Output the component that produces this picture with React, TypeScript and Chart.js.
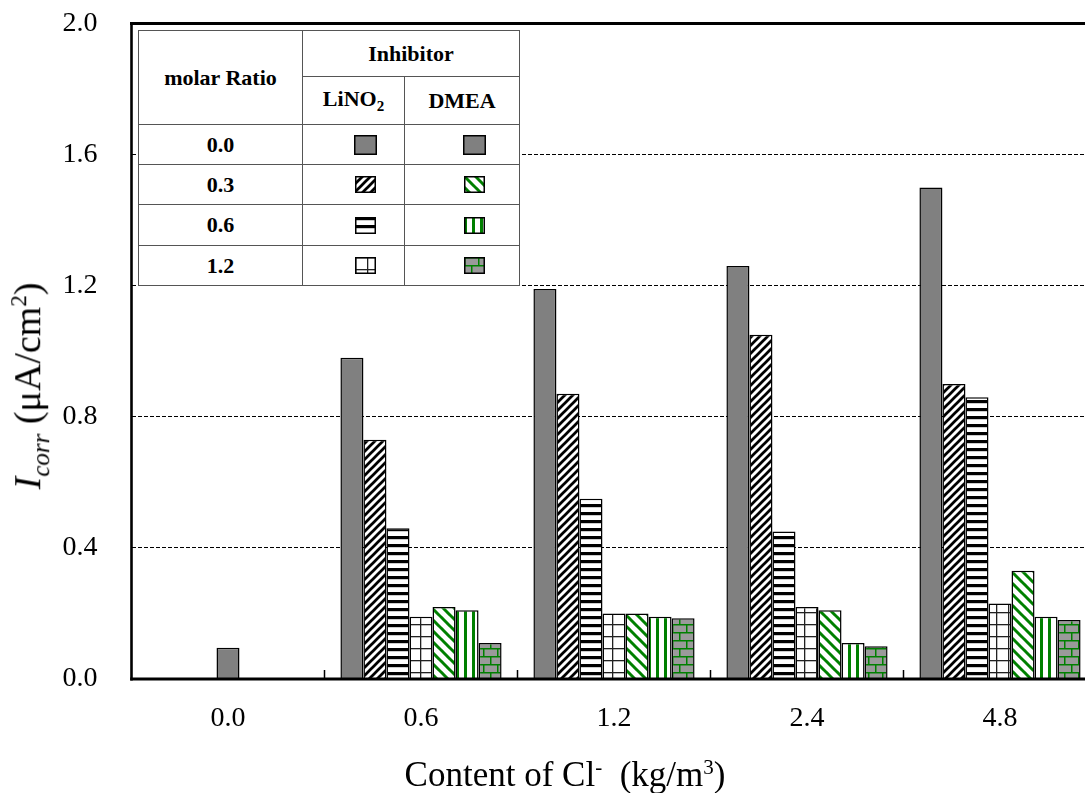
import React, { useEffect, useRef } from "react";
import { Chart, registerables } from "chart.js";

Chart.register(...registerables);

// ---- data ----
const categories = ["0.0", "0.6", "1.2", "2.4", "4.8"];
const control = [null, 0.98, 1.19, 1.26, 1.5];
const lino2Ratio03 = [null, 0.73, 0.87, 1.05, 0.9];
const lino2Ratio06 = [null, 0.46, 0.55, 0.45, 0.86];
const lino2Ratio12 = [null, 0.19, 0.2, 0.22, 0.23];
const dmeaRatio03 = [null, 0.22, 0.2, 0.21, 0.33];
const dmeaRatio06 = [null, 0.21, 0.19, 0.11, 0.19];
const dmeaRatio12 = [null, 0.11, 0.185, 0.1, 0.18];
const plainNoChloride = [0.095, null, null, null, null];
const yMin = 0;
const yMax = 2.0;
const yStep = 0.4;
const legendRatios = ["0.0", "0.3", "0.6", "1.2"];

const SERIF = '"Liberation Serif", "Times New Roman", serif';
const GREEN = "#008000";
const GRAY = "#808080";

type Kind = "solid" | "diagUp" | "hstripe" | "grid" | "greenDiag" | "greenV" | "brick";

function makeTile(kind: Kind): HTMLCanvasElement {
  const t = document.createElement("canvas");
  let w = 8, h = 8;
  if (kind === "greenDiag") { w = 11; h = 11; }
  if (kind === "grid") { w = 12; h = 12; }
  if (kind === "brick") { w = 14; h = 16; }
  t.width = w; t.height = h;
  const c = t.getContext("2d")!;
  c.fillStyle = "#fff";
  c.fillRect(0, 0, w, h);
  if (kind === "solid") {
    c.fillStyle = GRAY; c.fillRect(0, 0, w, h);
  } else if (kind === "diagUp") {
    c.strokeStyle = "#000"; c.lineWidth = 2.7;
    for (let k = -1; k <= 1; k++) {
      c.beginPath(); c.moveTo(k * w - 1, h + 1); c.lineTo(k * w + w + 1, -1); c.stroke();
    }
  } else if (kind === "greenDiag") {
    c.strokeStyle = GREEN; c.lineWidth = 3;
    for (let k = -1; k <= 1; k++) {
      c.beginPath(); c.moveTo(k * w - 1, -1); c.lineTo(k * w + w + 1, h + 1); c.stroke();
    }
  } else if (kind === "hstripe") {
    c.fillStyle = "#000"; c.fillRect(0, 0, w, 3.2);
  } else if (kind === "greenV") {
    c.fillStyle = GREEN; c.fillRect(0, 0, 3, h);
  } else if (kind === "grid") {
    c.fillStyle = "#222";
    c.fillRect(0, 0, w, 1.3);
    c.fillRect(0, 0, 1.3, h);
  } else if (kind === "brick") {
    c.fillStyle = "#9a9a9a"; c.fillRect(0, 0, w, h);
    c.fillStyle = GREEN;
    c.fillRect(0, 0, w, 1.5);
    c.fillRect(0, 8, w, 1.5);
    c.fillRect(0, 0, 1.5, 8);
    c.fillRect(7, 8, 1.5, 8);
  }
  return t;
}

function fillFor(ctx: CanvasRenderingContext2D, kind: Kind): CanvasPattern | string {
  if (kind === "solid") return GRAY;
  return ctx.createPattern(makeTile(kind), "repeat") || "#fff";
}

function Swatch({ kind, w, h }: { kind: Kind; w: number; h: number }) {
  const ref = useRef<HTMLCanvasElement>(null);
  useEffect(() => {
    const cv = ref.current;
    if (!cv) return;
    const c = cv.getContext("2d")!;
    c.fillStyle = fillFor(c, kind);
    c.fillRect(0, 0, w, h);
    c.strokeStyle = "#000";
    c.lineWidth = 1.5;
    c.strokeRect(0.75, 0.75, w - 1.5, h - 1.5);
  }, [kind, w, h]);
  return <canvas ref={ref} width={w} height={h} style={{ display: "block" }} />;
}

const framePlugin = {
  id: "frame",
  afterDatasetsDraw(chart: any) {
    const { ctx, chartArea, scales } = chart;
    const xs = scales.x;
    ctx.save();
    ctx.strokeStyle = "#000";
    // top border
    ctx.lineWidth = 3;
    ctx.beginPath();
    ctx.moveTo(chartArea.left - 1.5, chartArea.top);
    ctx.lineTo(chartArea.right + 2, chartArea.top);
    ctx.stroke();
    // left axis
    ctx.lineWidth = 2.6;
    ctx.beginPath();
    ctx.moveTo(chartArea.left, chartArea.top);
    ctx.lineTo(chartArea.left, chartArea.bottom + 1.5);
    ctx.stroke();
    // bottom axis
    ctx.lineWidth = 3;
    ctx.beginPath();
    ctx.moveTo(chartArea.left - 1.3, chartArea.bottom);
    ctx.lineTo(chartArea.right + 2, chartArea.bottom);
    ctx.stroke();
    // inward category tick marks
    ctx.lineWidth = 1.5;
    for (let i = 1; i < categories.length; i++) {
      const bx = (xs.getPixelForValue(i - 1) + xs.getPixelForValue(i)) / 2;
      ctx.beginPath();
      ctx.moveTo(bx, chartArea.bottom);
      ctx.lineTo(bx, chartArea.bottom - 9);
      ctx.stroke();
    }
    ctx.restore();
  },
};

export default function App() {
  const canvasRef = useRef<HTMLCanvasElement>(null);

  useEffect(() => {
    const cv = canvasRef.current;
    if (!cv) return;
    const ctx = cv.getContext("2d")!;
    const mk = (label: string, data: (number | null)[], kind: Kind, extra: any = {}) => ({
      label,
      data,
      backgroundColor: fillFor(ctx, kind),
      borderColor: "#000",
      borderWidth: 1.5,
      ...extra,
    });
    const chart = new Chart(cv, {
      type: "bar",
      data: {
        labels: categories,
        datasets: [
          mk("0.0", control, "solid"),
          mk("LiNO2 0.3", lino2Ratio03, "diagUp"),
          mk("LiNO2 0.6", lino2Ratio06, "hstripe"),
          mk("LiNO2 1.2", lino2Ratio12, "grid"),
          mk("DMEA 0.3", dmeaRatio03, "greenDiag"),
          mk("DMEA 0.6", dmeaRatio06, "greenV"),
          mk("DMEA 1.2", dmeaRatio12, "brick"),
          mk("plain", plainNoChloride, "solid", { grouped: false, barPercentage: 1 / 7 }),
        ] as any,
      },
      options: {
        animation: false,
        responsive: true,
        maintainAspectRatio: false,
        layout: { padding: { top: 23.5, right: 13.5, left: 0, bottom: 0 } },
        plugins: { legend: { display: false }, tooltip: { enabled: false } },
        datasets: { bar: { categoryPercentage: 0.835, barPercentage: 1 } },
        scales: {
          x: {
            offset: true,
            grid: { display: false },
            border: { display: false },
            ticks: { font: { family: SERIF, size: 28 }, color: "#000", padding: 15 },
            afterFit: (s: any) => { s.height = 114; s.paddingLeft = 0; s.paddingRight = 0; },
          },
          y: {
            min: yMin,
            max: yMax,
            ticks: {
              stepSize: yStep,
              font: { family: SERIF, size: 28 },
              color: "#000",
              padding: 34,
              callback: (v: any) => Number(v).toFixed(1),
            },
            grid: { color: "#000", lineWidth: 1, drawTicks: false },
            border: { display: false, dash: [4, 2] },
            afterFit: (s: any) => { s.width = 131.5; s.paddingTop = 0; s.paddingBottom = 0; },
          },
        },
      } as any,
      plugins: [framePlugin],
    });
    return () => chart.destroy();
  }, []);

  const cell: React.CSSProperties = {
    border: "1.5px solid #555",
    padding: 0,
    textAlign: "center",
    verticalAlign: "middle",
    fontFamily: SERIF,
    fontWeight: "bold",
    fontSize: 22,
    color: "#000",
  };
  const swRow = (kind: Kind, big: boolean) => (
    <div style={{ display: "flex", justifyContent: "center", paddingLeft: 24 }}>
      <Swatch kind={kind} w={big ? 23 : 21} h={big ? 20 : 17} />
    </div>
  );
  const lKinds: Kind[] = ["solid", "diagUp", "hstripe", "grid"];
  const dKinds: Kind[] = ["solid", "greenDiag", "greenV", "brick"];
  const rowH = [40, 40, 41, 40];

  return (
    <div style={{ position: "fixed", left: 0, top: 0, width: 1085, height: 793, overflow: "hidden", background: "#fff" }}>
      <div style={{ position: "absolute", left: 0, top: 0, width: 1110, height: 793 }}>
        <canvas ref={canvasRef} />
      </div>
      <table
        style={{
          position: "absolute",
          left: 138,
          top: 30,
          width: 381,
          height: 255,
          borderCollapse: "collapse",
          tableLayout: "fixed",
          background: "#fff",
        }}
      >
        <colgroup>
          <col style={{ width: 164 }} />
          <col style={{ width: 102 }} />
          <col style={{ width: 115 }} />
        </colgroup>
        <tbody>
          <tr style={{ height: 46 }}>
            <td style={cell} rowSpan={2}>molar Ratio</td>
            <td style={cell} colSpan={2}>Inhibitor</td>
          </tr>
          <tr style={{ height: 48 }}>
            <td style={cell}>LiNO<sub style={{ fontSize: 15 }}>2</sub></td>
            <td style={cell}>DMEA</td>
          </tr>
          {legendRatios.map((r, i) => (
            <tr key={r} style={{ height: rowH[i] }}>
              <td style={cell}>{r}</td>
              <td style={cell}>{swRow(lKinds[i], i === 0)}</td>
              <td style={cell}>{swRow(dKinds[i], i === 0)}</td>
            </tr>
          ))}
        </tbody>
      </table>
      <div
        style={{
          position: "absolute",
          left: 30,
          top: 386,
          transform: "translate(-50%, -50%) rotate(-90deg)",
          whiteSpace: "nowrap",
          fontFamily: SERIF,
          fontSize: 38,
          color: "#000",
        }}
      >
        <i>I</i>
        <sub style={{ fontSize: 25 }}><i>corr</i></sub> (μA/cm<sup style={{ fontSize: 23 }}>2</sup>)
      </div>
      <div
        style={{
          position: "absolute",
          left: 565,
          top: 775,
          transform: "translate(-50%, -50%)",
          whiteSpace: "nowrap",
          fontFamily: SERIF,
          fontSize: 35,
          color: "#000",
        }}
      >
        Content of Cl<sup style={{ fontSize: 21 }}>-</sup>{"\u00a0\u00a0"}(kg/m<sup style={{ fontSize: 21 }}>3</sup>)
      </div>
    </div>
  );
}
